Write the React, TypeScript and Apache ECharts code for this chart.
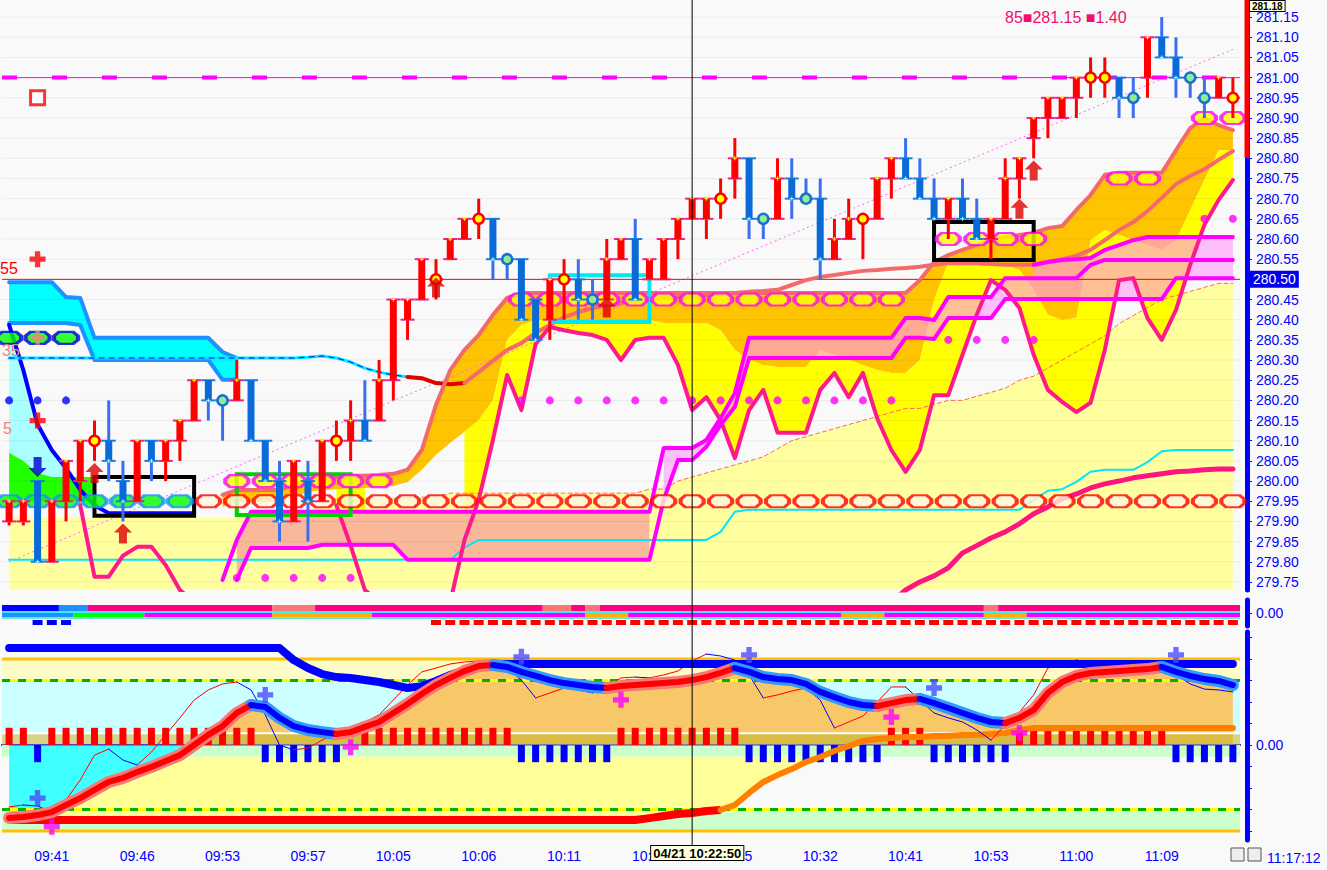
import React, { useEffect, useRef } from 'react';
import * as echarts from 'echarts';

const N = 87;
const FONT = 'Liberation Sans';
const rep = (v: any, n: number) => Array(n).fill(v);

const categories = Array.from({ length: N }, (_, i) => String(i));
const labelBars = [3, 9, 15, 21, 27, 33, 39, 45, 51, 57, 63, 69, 75, 81];
const timeLabels = ['09:41', '09:46', '09:53', '09:57', '10:05', '10:06', '10:11', '10:19', '10:25', '10:32', '10:41', '10:53', '11:00', '11:09'];
const priceTicks = [279.75, 279.8, 279.85, 279.9, 279.95, 280, 280.05, 280.1, 280.15, 280.2, 280.25, 280.3, 280.35, 280.4, 280.45, 280.5, 280.55, 280.6, 280.65, 280.7, 280.75, 280.8, 280.85, 280.9, 280.95, 281, 281.05, 281.1, 281.15];
const lastPrice = 280.5;
const oscTicks = [-40, -30, -20, -10, 0, 10, 20, 30, 40, 50];

// [open, close, low, high]
const candleOCLH = [
  [279.90, 279.95, 279.89, 279.95], [279.90, 279.95, 279.89, 279.95], [280.00, 279.80, 279.80, 280.00], [279.80, 279.95, 279.80, 279.95],
  [279.95, 280.05, 279.90, 280.05], [280.00, 280.10, 279.95, 280.10], [280.10, 280.10, 280.05, 280.15], [280.10, 280.05, 280.00, 280.20],
  [280.00, 279.95, 279.90, 280.05], [279.95, 280.10, 279.95, 280.10], [280.10, 280.05, 280.00, 280.10], [280.05, 280.10, 280.00, 280.10],
  [280.10, 280.15, 280.05, 280.15], [280.15, 280.25, 280.15, 280.25], [280.25, 280.20, 280.15, 280.25], [280.20, 280.20, 280.10, 280.20],
  [280.20, 280.25, 280.20, 280.30], [280.25, 280.10, 280.10, 280.25], [280.10, 280.00, 280.00, 280.10], [280.00, 279.90, 279.85, 280.05],
  [279.90, 280.05, 279.90, 280.05], [280.00, 279.95, 279.85, 280.05], [279.95, 280.10, 279.95, 280.10], [280.10, 280.10, 280.05, 280.15],
  [280.10, 280.15, 280.05, 280.20], [280.15, 280.10, 280.10, 280.25], [280.15, 280.25, 280.15, 280.30], [280.25, 280.45, 280.20, 280.45],
  [280.40, 280.45, 280.35, 280.45], [280.45, 280.55, 280.45, 280.55], [280.50, 280.50, 280.45, 280.55], [280.55, 280.60, 280.55, 280.60],
  [280.60, 280.65, 280.60, 280.65], [280.65, 280.65, 280.60, 280.70], [280.65, 280.55, 280.50, 280.65], [280.55, 280.55, 280.50, 280.55],
  [280.55, 280.40, 280.40, 280.55], [280.45, 280.35, 280.35, 280.45], [280.40, 280.50, 280.35, 280.50], [280.50, 280.50, 280.40, 280.55],
  [280.50, 280.45, 280.40, 280.55], [280.45, 280.45, 280.40, 280.50], [280.45, 280.55, 280.45, 280.60], [280.55, 280.60, 280.55, 280.60],
  [280.60, 280.45, 280.45, 280.65], [280.50, 280.55, 280.50, 280.55], [280.50, 280.60, 280.50, 280.60], [280.60, 280.65, 280.55, 280.65],
  [280.65, 280.70, 280.65, 280.70], [280.65, 280.70, 280.60, 280.70], [280.70, 280.70, 280.65, 280.75], [280.75, 280.80, 280.70, 280.85],
  [280.80, 280.65, 280.60, 280.80], [280.65, 280.65, 280.60, 280.65], [280.65, 280.75, 280.65, 280.80], [280.75, 280.70, 280.65, 280.80],
  [280.70, 280.70, 280.70, 280.75], [280.70, 280.55, 280.50, 280.75], [280.55, 280.60, 280.55, 280.65], [280.60, 280.65, 280.60, 280.70],
  [280.65, 280.65, 280.55, 280.65], [280.65, 280.75, 280.65, 280.75], [280.75, 280.80, 280.70, 280.80], [280.80, 280.75, 280.75, 280.85],
  [280.75, 280.70, 280.70, 280.80], [280.70, 280.65, 280.65, 280.75], [280.65, 280.70, 280.60, 280.70], [280.70, 280.65, 280.65, 280.75],
  [280.65, 280.60, 280.60, 280.70], [280.60, 280.65, 280.55, 280.65], [280.65, 280.75, 280.65, 280.80], [280.75, 280.80, 280.70, 280.80],
  [280.85, 280.90, 280.80, 280.90], [280.90, 280.95, 280.85, 280.95], [280.90, 280.95, 280.90, 280.95], [280.95, 281.00, 280.90, 281.00],
  [281.00, 281.00, 280.95, 281.05], [281.00, 281.00, 280.95, 281.05], [281.00, 280.95, 280.90, 281.00], [280.95, 280.95, 280.90, 281.00],
  [281.00, 281.10, 280.95, 281.10], [281.10, 281.05, 281.05, 281.15], [281.05, 281.00, 280.95, 281.10], [281.00, 281.00, 280.95, 281.00],
  [280.95, 280.95, 280.90, 281.00], [280.95, 281.00, 280.95, 281.00], [280.95, 280.95, 280.90, 281.00],
];
const redDojiBars = [6, 23, 30, 33, 39, 50, 60, 76, 77, 86];

const paleTop = [...rep(279.91, 22), ...rep(279.96, 9), ...rep(279.97, 14),
  279.98, 279.98, 280.00, 280.01, 280.02, 280.03, 280.04, 280.05, 280.06, 280.08, 280.10, 280.11, 280.12, 280.13, 280.14, 280.15,
  280.16, 280.17, 280.18, 280.18, 280.19, 280.20, 280.20, 280.21, 280.22, 280.23, 280.25, 280.26, 280.28, 280.30, 280.32, 280.34,
  280.36, 280.39, 280.41, 280.43, 280.45, 280.46, 280.47, 280.48, 280.49, 280.49];

const maLine = [...rep(280.305, 21),
  280.307, 280.31, 280.305, 280.295, 280.28, 280.27, 280.263, 280.258, 280.255, 280.243,
  280.24, 280.243, 280.27, 280.298, 280.325, 280.342, 280.367, 280.387, 280.406, 280.419,
  280.429, 280.436, 280.441, 280.449, 280.451, 280.454, 280.456, 280.459, 280.461, 280.464,
  280.466, 280.469, 280.471, 280.474, 280.486, 280.498, 280.506, 280.511, 280.516, 280.521,
  280.523, 280.526, 280.528, 280.531, 280.536, 280.54, 280.54, 280.54, 280.538, 280.536,
  280.536, 280.536, 280.543, 280.55, 280.558, 280.573, 280.597, 280.622, 280.642, 280.669,
  280.702, 280.736, 280.756, 280.773, 280.796, 280.818];

const cloudTop = [...rep(null, 15),
  279.966, 279.978, 279.978, 279.978, 279.978, 279.99, 280.003, 280.008, 280.01, 280.013, 280.013, 280.015, 280.018, 280.028,
  280.077, 280.189, 280.275, 280.325, 280.362, 280.412, 280.454,
  ...rep(280.466, 28),
  280.498, 280.543, 280.56, 280.573, 280.585, 280.597, 280.605, 280.61, 280.615, 280.627, 280.632, 280.672, 280.709, 280.759,
  ...rep(280.764, 4),
  280.82, 280.875, 280.90, 280.882, 280.87];

const cloudBot = [...rep(null, 15),
  279.936, 279.948, 279.948, 279.948, 279.948, 279.96, 279.973, 279.978, 279.98, 279.983, 279.983, 279.985, 279.988, 279.998,
  280.028, 280.065, 280.095, 280.122, 280.151, 280.201, 280.35,
  280.387, ...rep(280.399, 9), ...rep(280.392, 4),
  280.374, 280.325, 280.30, 280.288, 280.283, 280.283, 280.283, 280.325, 280.313, 280.30, 280.288, 280.275, 280.268, 280.268, 280.30, 280.449,
  ...rep(280.543, 4),
  280.536, 280.523, 280.474, 280.412, 280.399, 280.404, 280.597, 280.622, 280.61, 280.597, 280.585, 280.573, 280.597, 280.672, 280.746, 280.82, 280.82];

const zigzag = [...rep(null, 5),
  279.94, 279.763, 279.763, 279.815, 279.837, 279.837, 279.792, 279.73, 279.70,
  ...rep(null, 9),
  279.94, 279.84, 279.73, 279.70,
  ...rep(null, 4),
  279.70, 279.854, 279.953, 280.102, 280.263, 280.176, 280.34, 280.382, 280.374, 280.367, 280.362, 280.35, 280.30, 280.35,
  280.355, 280.355, 280.288, 280.176, 280.208, 280.151, 280.057, 280.176, 280.226, 280.12, 280.12, 280.12, 280.226, 280.268,
  280.208, 280.268, 280.156, 280.077, 280.023, 280.077, 280.213, 280.213, 280.313, 280.412, 280.498, 280.474, 280.429, 280.313,
  280.226, 280.196, 280.171, 280.194, 280.325, 280.498, 280.503, 280.404, 280.35, 280.424, 280.536, 280.635, 280.697, 280.746];

const magU = [...rep(null, 15), 279.755, 279.854, ...rep(279.924, 29), 280.082, 280.082, 280.082, 280.102, 280.156, 280.218,
  ...rep(280.355, 11), 280.404, 280.404, 280.399, ...rep(280.456, 4), ...rep(280.503, 6), 280.536, ...rep(280.548, 10)];
const magL = [...rep(null, 16), 279.755, ...rep(279.834, 5), ...rep(279.842, 6), ...rep(279.805, 18), 279.953, 280.052, 280.052,
  280.085, 280.139, 280.184, ...rep(280.305, 11), 280.355, 280.355, 280.352, ...rep(280.404, 4), ...rep(280.451, 12), ...rep(280.503, 5)];
const magT = [...rep(null, 72), 280.536, 280.543, 280.548, 280.55, 280.553, 280.573, 280.585, 280.597, ...rep(280.605, 7)];

const cyanTop = [...rep(280.493, 4), 280.456, 280.454, ...rep(280.355, 9), 280.32, 280.305, ...rep(null, 70)];
const cyanBot = [...rep(280.392, 5), 280.387, ...rep(280.30, 9), 280.251, 280.251, ...rep(null, 70)];
const blueLine = [280.387, 280.275, 280.14, 280.077, 280.032, 279.978, 279.94, ...rep(279.92, 7), ...rep(null, 73)];
const greenHi = [280.07, 280.05, 280.02, 280.01, 280.01, 280.01, 280.01, ...rep(null, 80)];
const greenLo = [...rep(279.95, 7), ...rep(null, 80)];
const cyanLine = [...rep(279.805, 32), 279.835, ...rep(279.854, 17), 279.874, 279.924, ...rep(279.929, 20), 279.953, 279.976, 279.98,
  279.998, 280.023, ...rep(280.028, 3), 280.047, 280.074, ...rep(280.077, 5)];
const pinkRise = [...rep(null, 62), 279.70, 279.73, 279.75, 279.765, 279.785, 279.822, 279.84, 279.859, 279.874, 279.894, 279.919,
  279.936, 279.956, 279.968, 279.983, 279.993, 280.0, 280.008, 280.013, 280.018, 280.023, 280.025, 280.028, 280.03, 280.03];

const redOvalBars = [14, 16, 18, 20, 22, 24, 26, 28, 30, 32, 34, 36, 38, 40, 42, 44, 46, 48, 50, 52, 54, 56, 58, 60, 62, 64, 66, 68, 70, 72, 74, 76, 78, 80, 82, 84, 86];
const redOvalPrice = 279.95;
const greenOvalPts = [[0, 279.95], [2, 279.95], [4, 279.95], [6, 279.95], [8, 279.95], [10, 279.95], [12, 279.95]];
const greenOvalHighPts = [[0, 280.355], [2, 280.355], [4, 280.355]];
const magOvalPts = [[16, 280.0], [18, 280.0], [20, 280.0], [22, 280.0], [24, 280.0], [26, 280.0],
  [36, 280.45], [38, 280.45], [40, 280.45], [42, 280.45], [44, 280.45], [46, 280.45], [48, 280.45], [50, 280.45], [52, 280.45],
  [54, 280.45], [56, 280.45], [58, 280.45], [60, 280.45], [62, 280.45],
  [66, 280.6], [68, 280.6], [70, 280.6], [72, 280.6], [78, 280.75], [80, 280.75], [84, 280.9], [86, 280.9]];
const magDotPts = [[36, 280.2], [38, 280.2], [40, 280.2], [42, 280.2], [44, 280.2], [46, 280.2], [48, 280.2], [50, 280.2], [52, 280.2],
  [54, 280.2], [56, 280.2], [58, 280.2], [60, 280.2], [62, 280.2], [66, 280.35], [68, 280.35], [70, 280.35], [72, 280.35],
  [84, 280.65], [86, 280.65], [16, 279.76], [18, 279.76], [20, 279.76], [22, 279.76], [24, 279.76]];
const blueDotPts = [[0, 280.2], [2, 280.2], [4, 280.2]];
const upArrowPts = [[6, 280.02], [8, 279.87], [30, 280.48], [42, 280.43], [71, 280.675], [72, 280.77]];
const downArrowPts = [[2, 280.035]];
const redCrossPts = [[2, 280.55], [2, 280.15]];
const salmonCrossPts = [[2, 280.355]];
const redSquarePts = [[2, 280.95]];
const boxBars = [[6, 13], [16, 24], [38, 45], [65, 72]];
const boxPrices = [[279.914, 280.01], [279.916, 280.017], [280.394, 280.51], [280.548, 280.642]];
const boxColors = ['#000000', '#00d000', '#00e8f0', '#000000'];

// strip panel
const stripRow1 = [[0, 3, '#0000ff'], [4, 5, '#1e90ff'], [6, 18, '#ff0080'], [19, 21, '#f87878'], [22, 37, '#ff0080'], [38, 39, '#f87878'],
  [40, 40, '#ff0080'], [41, 41, '#f87878'], [42, 68, '#ff0080'], [69, 69, '#f87878'], [70, 86, '#ff0080']];
const stripRow2 = [[0, 4, '#1e90ff'], [5, 9, '#00ff00'], [10, 18, '#ff00ff'], [19, 25, '#ffb000'], [26, 40, '#ff00ff'], [41, 43, '#ffb000'],
  [44, 58, '#ff00ff'], [59, 61, '#ffb000'], [62, 68, '#ff00ff'], [69, 71, '#ffb000'], [72, 86, '#ff00ff']];
const blueSquareBars = [2, 3, 4];
const redSquareSpan = [30, 86];

// oscillator panel
const osc = [-33.95, -33.5, -32.6, -31.2, -27.9, -24.7, -20.9, -17.2, -15.3, -12.6,
  -10.2, -7.4, -4.7, 0, 4.7, 8.8, 14.9, 18.6, 17.7, 12.6,
  8.8, 7.0, 6.0, 5.1, 6.0, 8.4, 10.7, 14.9, 19.1, 23.7,
  27.9, 31.2, 34.4, 36.7, 37.2, 36.3, 34.0, 32.1, 30.2, 28.8,
  27.9, 27.0, 26.5, 27.4, 27.9, 28.4, 28.8, 29.3, 30.2, 31.6,
  33.5, 35.8, 34.0, 31.6, 30.7, 30.2, 28.4, 24.7, 22.3, 20.0,
  18.6, 18.1, 19.5, 20.9, 21.4, 19.5, 17.2, 14.9, 12.6, 10.7,
  10.2, 12.6, 16.3, 24.2, 29.3, 32.1, 33.5, 34.0, 34.4, 34.9,
  35.3, 36.3, 34.0, 32.1, 30.7, 29.8, 27.9];
const envelope = [...rep(45.1, 20), 39.5, 35.8, 33.0, 31.6, 31.2, 30.2, 29.3, 27.9, 26.5, 27.4, 29.8, 32.6, 34.9, 36.7, ...rep(37.7, 53)];
const thinOsc = [-28.8, -27.9, -28.4, -31.2, -25.6, -16.3, -4.7, -1.9, -7.0, -9.3,
  -3.3, 4.7, 12.6, 20.9, 25.6, 28.4, 29.3, 25.6, 14.0, 0,
  -2.3, -1.4, 2.3, 5.6, 7.9, 10.7, 14.0, 20.9, 27.9, 34.0,
  35.8, 37.7, 38.6, 39.1, 37.7, 35.8, 30.2, 21.9, 24.2, 26.5,
  25.6, 24.2, 27.0, 31.2, 31.6, 31.2, 32.6, 34.4, 39.1, 42.3,
  41.4, 39.5, 32.6, 21.9, 23.3, 25.1, 26.5, 20.9, 7.9, 10.7,
  13.5, 20.0, 27.0, 27.0, 20.9, 14.9, 12.6, 10.7, 7.0, 2.3,
  9.3, 15.3, 23.3, 35.8, 37.7, 39.5, 38.6, 37.2, 35.3, 33.0,
  37.2, 38.6, 32.6, 28.4, 26.0, 25.6, 24.7];
const longLine = [...rep(-34.9, 45), -34.0, -33.0, -32.1, -31.6, -30.7, -30.2, -27.9, -22.3, -17.2, -14.0, -11.2, -7.9, -5.6, -2.8,
  -0.5, 1.9, 2.8, 3.3, 3.7, 3.7, 4.2, 4.2, 4.7, 4.7, 5.1, 5.6, 7.0, ...rep(7.9, 15)];
const histSign = [1, 1, -1, ...rep(1, 15), ...rep(-1, 6), 0, ...rep(1, 11), ...rep(-1, 7), ...rep(1, 9), ...rep(-1, 10), ...rep(1, 3),
  ...rep(-1, 6), ...rep(1, 11), ...rep(-1, 5)];
const histHeight = 8;
const blueCrossPts = [[2, -24.7], [18, 23.3], [36, 41], [52, 41.9], [65, 26.5], [82, 41.9]];
const magCrossPts = [[3, -38], [24, -1], [43, 21], [62, 13], [71, 5.6]];

const P_MIN = 279.73, P_MAX = 281.18;
const O_MIN = -44.19, O_MAX = 52.56;

const ovalPath = 'path://M5,0 L19,0 L24,4 L24,8 L19,12 L5,12 L0,8 L0,4 Z';
const plusPath = 'path://M4,0 L8,0 L8,4 L12,4 L12,8 L8,8 L8,12 L4,12 L4,8 L0,8 L0,4 L4,4 Z';
const arrowPath = 'path://M9,0 L18,9 L13,9 L13,20 L5,20 L5,9 L0,9 Z';

function bandSeries(grid: number, lo: any[], hi: any[], fill: string, z: number, ymin: number, ymax: number) {
  return {
    type: 'custom', xAxisIndex: grid, yAxisIndex: grid, silent: true, z,
    data: [[0, (ymin + ymax) / 2]],
    renderItem: (params: any, api: any) => {
      const cl = (v: number) => Math.max(ymin, Math.min(ymax, v));
      const children: any[] = [];
      let run: number[] = [];
      const flush = () => {
        if (run.length >= 2) {
          const top = run.map((i) => api.coord([i, cl(hi[i])]));
          const bot = run.slice().reverse().map((i) => api.coord([i, cl(lo[i])]));
          children.push({ type: 'polygon', shape: { points: top.concat(bot) }, style: { fill } });
        }
        run = [];
      };
      for (let i = 0; i < N; i++) {
        if (lo[i] == null || hi[i] == null) flush(); else run.push(i);
      }
      flush();
      return { type: 'group', children };
    },
  };
}

function lineS(grid: number, data: any[], color: string, width: number, z: number, extra: any = {}) {
  return {
    type: 'line', xAxisIndex: grid, yAxisIndex: grid, data, symbol: 'none', silent: true, z,
    connectNulls: false, itemStyle: { color },
    lineStyle: { color, width, cap: 'round', join: 'round', ...(extra.lineStyle || {}) },
  };
}

function scat(grid: number, pts: any[], symbol: string, size: any, itemStyle: any, z: number, rotate = 0) {
  return { type: 'scatter', xAxisIndex: grid, yAxisIndex: grid, data: pts, symbol, symbolSize: size, symbolRotate: rotate, itemStyle, silent: true, z };
}

function runsOf(vals: number[]) {
  const runs: { up: boolean; from: number; to: number }[] = [];
  let start = 0;
  let dir = vals[1] >= vals[0];
  for (let i = 1; i < vals.length; i++) {
    const d = vals[i] >= vals[i - 1];
    if (d !== dir) { runs.push({ up: dir, from: start, to: i - 1 }); start = i - 1; dir = d; }
  }
  runs.push({ up: dir, from: start, to: vals.length - 1 });
  return runs;
}
const slice = (vals: any[], from: number, to: number) => vals.map((v, i) => (i >= from && i <= to ? v : null));

function rectsSeries(grid: number, items: any[], widthPx: number, z: number) {
  return {
    type: 'custom', xAxisIndex: grid, yAxisIndex: grid, silent: true, z,
    data: items.map((it) => [it[0], it[2], it[1], it[3]]),
    encode: { x: [0, 2], y: [1, 3] },
    renderItem: (params: any, api: any) => {
      const it = items[params.dataIndex];
      const a = api.coord([it[0], it[3]]);
      const b = api.coord([it[1], it[2]]);
      const w = api.size([1, 0])[0];
      let x0 = a[0] - w / 2, x1 = b[0] + w / 2;
      if (widthPx > 0) { x0 = a[0] - widthPx / 2; x1 = b[0] + widthPx / 2; }
      return { type: 'rect', shape: { x: x0, y: a[1], width: x1 - x0, height: b[1] - a[1] }, style: { fill: it[4] } };
    },
  };
}

// full-width horizontal level line in a grid, drawn through the axes
function levelSeries(grid: number, value: number, color: string, width: number, dash: any, z: number) {
  return {
    type: 'custom', xAxisIndex: grid, yAxisIndex: grid, silent: true, z,
    data: [[0, value]],
    renderItem: (params: any, api: any) => {
      const y = api.coord([0, value])[1];
      const cs = params.coordSys;
      return { type: 'line', shape: { x1: cs.x, y1: y, x2: cs.x + cs.width, y2: y }, style: { stroke: color, lineWidth: width, lineDash: dash } };
    },
  };
}

function buildOption() {
  const series: any[] = [];
  // ---------- main panel ----------
  series.push(bandSeries(0, rep(P_MIN, N), paleTop, '#ffffa0', 2, P_MIN, P_MAX));
  series.push(bandSeries(0, magL.map((v, i) => (i <= 45 ? v : null)), magU.map((v, i) => (i <= 45 ? v : null)), '#f9b89a', 2, P_MIN, P_MAX));
  series.push(bandSeries(0, cloudBot, cloudTop, '#ffc400', 2, P_MIN, P_MAX));
  const yellowLo = zigzag.map((z, i) => {
    if (z == null || cloudBot[i] == null || z < P_MIN) return null;
    const base = i <= 45 && magU[i] != null ? Math.max(z, magU[i]) : z;
    return Math.min(cloudBot[i], base);
  });
  series.push(bandSeries(0, yellowLo, cloudBot, '#ffff00', 2, P_MIN, P_MAX));
  series.push(bandSeries(0, magL.map((v, i) => (i >= 46 ? v : null)), magU.map((v, i) => (i >= 46 ? v : null)), 'rgba(255,150,250,0.6)', 2, P_MIN, P_MAX));
  series.push(bandSeries(0, magU.map((v, i) => (magT[i] != null ? v : null)), magT, 'rgba(255,150,250,0.6)', 2, P_MIN, P_MAX));
  series.push(bandSeries(0, cyanBot, cyanTop, '#00ffff', 2, P_MIN, P_MAX));
  series.push(bandSeries(0, greenHi.map((v, i) => (i <= 4 ? v : null)), blueLine.map((v, i) => (i <= 4 ? v : null)), '#aaffff', 2, P_MIN, P_MAX));
  series.push(bandSeries(0, greenLo, greenHi, '#22ff00', 2, P_MIN, P_MAX));

  // gridlines
  priceTicks.forEach((v) => series.push(levelSeries(0, v, 'rgba(0,0,0,0.06)', 1, null, 3)));
  series.push(lineS(0, paleTop.map((v, i) => (i >= 28 ? v : null)), '#ff6a50', 1, 4, { lineStyle: { type: [4, 3] } }));
  series.push(lineS(0, cyanTop, '#1e90ff', 4, 4));
  series.push(lineS(0, cyanBot, '#1e90ff', 4, 4));
  series.push(lineS(0, blueLine, '#0000ff', 4, 4));
  series.push(lineS(0, cyanLine, '#00e5ff', 2, 4));
  series.push(lineS(0, slice(maLine, 0, 28), '#00e8ff', 3, 4));
  series.push(lineS(0, slice(maLine, 0, 28), '#0000ff', 1, 4, { lineStyle: { type: [5, 5] } }));
  series.push(lineS(0, slice(maLine, 28, 32), '#e00000', 4, 4));
  series.push(lineS(0, slice(maLine, 32, 86), '#f46a6a', 4, 4));
  series.push(lineS(0, cloudTop, '#f26a6a', 4, 4));
  series.push(lineS(0, zigzag, '#ff1a8c', 4, 4));
  series.push(lineS(0, magU, '#ff00ff', 4, 4));
  series.push(lineS(0, magL, '#ff00ff', 4, 4));
  series.push(lineS(0, magT, '#ff00ff', 4, 4));
  series.push(lineS(0, pinkRise, '#ff1480', 5, 4));
  // 281.00 level (thin + thick dashes)
  series.push(levelSeries(0, 281.0, '#ff00ff', 1, null, 4));
  series.push(levelSeries(0, 281.0, '#ff00ff', 4, [15, 35], 4));
  // last price line
  series.push(levelSeries(0, lastPrice, '#ff0000', 1, null, 4));
  // price tag on the axis
  series.push({
    type: 'line', xAxisIndex: 0, yAxisIndex: 0, data: rep(null, N), silent: true, z: 4,
    markLine: {
      silent: true, symbol: 'none', z: 4,
      lineStyle: { color: 'rgba(255,0,0,0)', width: 1 },
      label: { show: true, position: 'end', formatter: lastPrice.toFixed(2), color: '#ffffff', backgroundColor: '#0000ee', padding: [2, 3, 1, 3], fontSize: 14, fontFamily: FONT, distance: 10 },
      data: [{ yAxis: lastPrice }],
    },
  });
  // trend line
  series.push({
    type: 'line', xAxisIndex: 0, yAxisIndex: 0, data: rep(null, N), silent: true, z: 4,
    markLine: {
      silent: true, symbol: 'none', z: 4, label: { show: false },
      lineStyle: { color: '#ff66ff', width: 1, type: [2, 3] },
      data: [[{ coord: [0, 279.8] }, { coord: [86, 281.07] }]],
    },
  });
  // boxes
  series.push({
    type: 'custom', xAxisIndex: 0, yAxisIndex: 0, silent: true, z: 5,
    data: boxBars.map((b, k) => [b[0], boxPrices[k][0], b[1], boxPrices[k][1]]),
    encode: { x: [0, 2], y: [1, 3] },
    renderItem: (params: any, api: any) => {
      const k = params.dataIndex;
      const a = api.coord([boxBars[k][0], boxPrices[k][1]]);
      const b = api.coord([boxBars[k][1], boxPrices[k][0]]);
      return { type: 'rect', shape: { x: a[0], y: a[1], width: b[0] - a[0], height: b[1] - a[1] }, style: { fill: 'none', stroke: boxColors[k], lineWidth: 4 } };
    },
  });
  // ovals & dots
  series.push(scat(0, redOvalBars.map((b) => [b, redOvalPrice]), ovalPath, [23, 12], { color: '#fff8e0', borderColor: '#ff0000', borderWidth: 3 }, 5));
  series.push(scat(0, greenOvalPts, ovalPath, [24, 12], { color: '#00ff00', borderColor: '#1e90ff', borderWidth: 3 }, 5));
  series.push(scat(0, greenOvalHighPts, ovalPath, [24, 12], { color: '#00ff00', borderColor: '#0000dd', borderWidth: 3 }, 5));
  series.push(scat(0, magOvalPts, ovalPath, [23, 12], { color: '#ffff00', borderColor: '#ff00ff', borderWidth: 3 }, 5));
  series.push(scat(0, magDotPts, 'circle', 8, { color: '#ff00ff' }, 5));
  series.push(scat(0, blueDotPts, 'circle', 8, { color: '#0000ff' }, 5));
  // candles
  series.push({
    type: 'custom', xAxisIndex: 0, yAxisIndex: 0, silent: true, z: 6,
    data: candleOCLH.map((c, i) => [i, c[0], c[1], c[2], c[3]]),
    encode: { x: 0, y: [1, 2, 3, 4] },
    renderItem: (params: any, api: any) => {
      const i = params.dataIndex;
      const [o, c, l, h] = candleOCLH[i];
      const po = api.coord([i, o]);
      const x = po[0];
      const yo = po[1], yc = api.coord([i, c])[1], yl = api.coord([i, l])[1], yh = api.coord([i, h])[1];
      const doji = o === c;
      const up = doji ? redDojiBars.indexOf(i) >= 0 : c > o;
      const body = up ? '#ff0000' : '#0a6ad8';
      const wick = up ? '#ff0000' : '#3a70f0';
      const tick = up ? '#f0208a' : '#1a80e0';
      const top = Math.min(yo, yc), bot = Math.max(yo, yc);
      const ch: any[] = [];
      ch.push({ type: 'line', shape: { x1: x, y1: yl, x2: x, y2: yh }, style: { stroke: wick, lineWidth: 3 } });
      ch.push({ type: 'line', shape: { x1: x - 7, y1: top, x2: x + 7, y2: top }, style: { stroke: tick, lineWidth: 2 } });
      ch.push({ type: 'line', shape: { x1: x - 7, y1: bot, x2: x + 7, y2: bot }, style: { stroke: tick, lineWidth: 2 } });
      if (doji) {
        ch.push({ type: 'circle', shape: { cx: x, cy: yo, r: 5 }, style: { fill: up ? '#ffff00' : '#90ee90', stroke: up ? '#ff0000' : '#1a70d0', lineWidth: 2.5 } });
      } else {
        ch.push({ type: 'rect', shape: { x: x - 3.5, y: top, width: 7, height: Math.max(1, bot - top) }, style: { fill: body } });
        const py = up ? top : bot;
        const pc = up ? '#ffff00' : '#a0ffff';
        ch.push({ type: 'line', shape: { x1: x - 2, y1: py, x2: x + 2, y2: py }, style: { stroke: pc, lineWidth: 1 } });
        ch.push({ type: 'line', shape: { x1: x, y1: py - 2, x2: x, y2: py + 2 }, style: { stroke: pc, lineWidth: 1 } });
      }
      return { type: 'group', children: ch };
    },
  });
  series.push(scat(0, upArrowPts, arrowPath, [18, 20], { color: '#dd0000' }, 7));
  series.push(scat(0, downArrowPts, arrowPath, [18, 20], { color: '#0000cc' }, 7, 180));
  series.push(scat(0, redCrossPts, plusPath, 16, { color: '#ff0000' }, 7));
  series.push(scat(0, salmonCrossPts, plusPath, 14, { color: '#f88080' }, 7));
  series.push(scat(0, redSquarePts, 'rect', 14, { color: '#ffffff', borderColor: '#ff0000', borderWidth: 3 }, 7));

  // ---------- strip panel ----------
  const stripItems: any[] = [];
  stripRow1.forEach((s) => stripItems.push([s[0], s[1], 15, 21, s[2]]));
  stripRow2.forEach((s) => stripItems.push([s[0], s[1], 9, 13, s[2]]));
  series.push(rectsSeries(1, stripItems, 0, 2));
  series.push(levelSeries(1, 14, '#00e5ff', 1.5, null, 3));
  series.push(levelSeries(1, 8, '#40e0c0', 1.5, null, 3));
  const sq: any[] = blueSquareBars.map((b) => [b, b, 1, 6, '#0000ff']);
  for (let b = redSquareSpan[0]; b <= redSquareSpan[1]; b++) sq.push([b, b, 1, 6, '#ff0000']);
  series.push(rectsSeries(1, sq, 10, 3));

  // ---------- oscillator panel ----------
  series.push({
    type: 'line', xAxisIndex: 2, yAxisIndex: 2, data: rep(0, N), symbol: 'none', silent: true, z: 3,
    lineStyle: { color: '#3030ff', width: 1 },
    markArea: {
      silent: true, z: 1,
      data: [
        [{ yAxis: 30, itemStyle: { color: '#fdfbc6' } }, { yAxis: 40 }],
        [{ yAxis: 5.5, itemStyle: { color: '#ccffff' } }, { yAxis: 30 }],
        [{ yAxis: -5.5, itemStyle: { color: '#ccffcc' } }, { yAxis: 0 }],
        [{ yAxis: -40, itemStyle: { color: '#ccffcc' } }, { yAxis: -30 }],
      ],
    },
  });
  series.push(bandSeries(2, longLine.map((v) => Math.min(v, -5.5)), rep(-5.5, N), '#ffff99', 2, O_MIN, O_MAX));
  series.push(bandSeries(2, osc.map((v) => Math.min(v, 0)), rep(0, N), '#40ffff', 2, O_MIN, O_MAX));
  series.push(bandSeries(2, rep(0, N), osc.map((v) => Math.max(v, 0)), '#f8c868', 2, O_MIN, O_MAX));
  series.push({
    type: 'line', xAxisIndex: 2, yAxisIndex: 2, data: rep(null, N), silent: true, z: 3,
    markArea: { silent: true, z: 3, data: [[{ yAxis: 0, itemStyle: { color: 'rgba(190,180,40,0.55)' } }, { yAxis: 5.5 }]] },
  });
  series.push(levelSeries(2, 40, '#ffc000', 3, null, 3));
  series.push(levelSeries(2, -40, '#ffc000', 3, null, 3));
  series.push(levelSeries(2, 30, '#ffff00', 3, null, 3));
  series.push(levelSeries(2, -30, '#ffff00', 3, null, 3));
  series.push(levelSeries(2, 30, '#00b000', 3, [8, 8], 3));
  series.push(levelSeries(2, -30, '#00b000', 3, [8, 8], 3));
  series.push(levelSeries(2, 5.5, '#ffffff', 2, null, 3));
  series.push({
    type: 'bar', xAxisIndex: 2, yAxisIndex: 2, silent: true, z: 4, barWidth: 7,
    data: histSign.map((s) => ({ value: s * histHeight, itemStyle: { color: s > 0 ? '#ff0000' : '#0000ff' } })),
  });
  series.push(lineS(2, slice(longLine, 0, 50), '#ff0000', 8, 5, { lineStyle: { cap: 'butt' } }));
  series.push(lineS(2, slice(longLine, 50, 86), '#ff8000', 6, 5));
  for (const r of runsOf(thinOsc)) series.push(lineS(2, slice(thinOsc, r.from, r.to), r.up ? '#ff0000' : '#0000ff', 1, 6));
  series.push(lineS(2, envelope, '#0000ff', 8, 6));
  const oRuns = runsOf(osc);
  for (const r of oRuns) series.push(lineS(2, slice(osc, r.from, r.to), r.up ? '#f87878' : '#3399ff', 12, 7));
  for (const r of oRuns) series.push(lineS(2, slice(osc, r.from, r.to), r.up ? '#ff0000' : '#0000ff', 6, 8));
  series.push(scat(2, blueCrossPts, plusPath, 16, { color: '#4a4aff' }, 9));
  series.push(scat(2, magCrossPts, plusPath, 16, { color: '#ff00ff' }, 9));

  const yBase = {
    type: 'value', position: 'right', offset: 7,
    axisLine: { show: true, lineStyle: { color: '#0000ff', width: 5 } },
    splitLine: { show: false },
  };
  const priceLabelValues = priceTicks.filter((v) => Math.abs(v - lastPrice) > 1e-6);
  return {
    animation: false,
    backgroundColor: '#f9f9f9',
    grid: [
      { left: 2, top: 5, width: 1238, height: 585 },
      { left: 2, top: 600, width: 1238, height: 26 },
      { left: 2, top: 632, width: 1238, height: 208 },
    ],
    xAxis: [0, 1, 2].map((g) => ({
      type: 'category', gridIndex: g, data: categories, boundaryGap: true, show: g === 2,
      axisLine: { show: true, lineStyle: { color: '#0000ff', width: 2 } },
      axisTick: { show: true, alignWithLabel: true, interval: (i: number) => i % 3 === 0, length: 4, lineStyle: { color: '#0000ff' } },
      axisLabel: {
        interval: 0, color: '#0000ff', fontSize: 14, fontFamily: FONT, margin: 9,
        formatter: (v: string, idx: number) => { const k = labelBars.indexOf(idx); return k >= 0 ? timeLabels[k] : ''; },
      },
      splitLine: { show: false },
    })),
    yAxis: [
      {
        ...yBase, gridIndex: 0, min: P_MIN, max: P_MAX,
        axisTick: { show: true, length: 5, lineStyle: { color: '#0000ff', width: 1 }, customValues: priceTicks },
        axisLabel: { customValues: priceLabelValues, color: '#0000ff', fontSize: 14, fontFamily: FONT, margin: 9, formatter: (v: number) => v.toFixed(2) },
      },
      {
        ...yBase, gridIndex: 1, min: 0, max: 26,
        axisTick: { show: true, length: 5, lineStyle: { color: '#0000ff', width: 1 }, customValues: [13] },
        axisLabel: { customValues: [13], color: '#0000ff', fontSize: 14, fontFamily: FONT, margin: 9, formatter: () => '0.00' },
      },
      {
        ...yBase, gridIndex: 2, min: O_MIN, max: O_MAX,
        axisTick: { show: true, length: 5, lineStyle: { color: '#0000ff', width: 1 }, customValues: oscTicks },
        axisLabel: { customValues: [0], color: '#0000ff', fontSize: 14, fontFamily: FONT, margin: 9, formatter: () => '0.00' },
      },
    ],
    series,
  };
}

function buildGraphics(cx: number) {
  return [
    { type: 'rect', z: 50, shape: { x: 1244.5, y: 0, width: 5, height: 158 }, style: { fill: '#ff0000' } },
    { type: 'line', z: 50, shape: { x1: cx, y1: 0, x2: cx, y2: 845 }, style: { stroke: '#000000', lineWidth: 1 } },
    {
      type: 'text', z: 60, x: cx - 41, y: 853,
      style: { text: '04/21 10:22:50', fill: '#000', font: `bold 13px "${FONT}"`, verticalAlign: 'middle', backgroundColor: '#ffffe1', borderColor: '#000', borderWidth: 1, padding: [1, 2, 0, 2] },
    },
    {
      type: 'text', z: 60, x: 1250, y: 1,
      style: { text: '281.18', fill: '#000', font: `bold 10px "${FONT}"`, verticalAlign: 'top', backgroundColor: '#ffffe0', borderColor: '#000', borderWidth: 1, padding: [0, 2, 0, 2] },
    },
    { type: 'text', z: 60, x: 1005, y: 17, style: { text: '85\u25A0281.15 \u25A01.40', fill: '#f0106e', font: `16px "${FONT}"`, verticalAlign: 'middle' } },
    { type: 'text', z: 60, x: 0, y: 268, style: { text: '55', fill: '#ee0000', font: `16px "${FONT}"`, verticalAlign: 'middle' } },
    { type: 'text', z: 60, x: 2, y: 350, style: { text: '35', fill: '#f08080', font: `16px "${FONT}"`, verticalAlign: 'middle' } },
    { type: 'text', z: 60, x: 3, y: 428, style: { text: '5', fill: '#f08080', font: `16px "${FONT}"`, verticalAlign: 'middle' } },
    { type: 'text', z: 60, x: 1267, y: 858, style: { text: '11:17:12', fill: '#0000ff', font: `14px "${FONT}"`, verticalAlign: 'middle' } },
    { type: 'rect', z: 60, shape: { x: 1231, y: 848, width: 13, height: 13 }, style: { fill: '#eeeeee', stroke: '#555', lineWidth: 1 } },
    { type: 'rect', z: 60, shape: { x: 1248, y: 848, width: 13, height: 13 }, style: { fill: '#eeeeee', stroke: '#555', lineWidth: 1 } },
  ];
}

export default function App() {
  const ref = useRef<HTMLDivElement>(null);
  useEffect(() => {
    const el = ref.current as HTMLDivElement;
    const chart = echarts.init(el, null, { renderer: 'svg' });
    chart.setOption(buildOption() as any);
    let cx = 693;
    try {
      const p = chart.convertToPixel({ xAxisIndex: 0 } as any, 48 as any) as any;
      if (typeof p === 'number' && isFinite(p)) cx = p;
    } catch (e) { /* keep default */ }
    chart.setOption({ graphic: buildGraphics(cx) } as any);
    return () => chart.dispose();
  }, []);
  return <div ref={ref} style={{ position: 'fixed', left: 0, top: 0, width: 1327, height: 870 }} />;
}
